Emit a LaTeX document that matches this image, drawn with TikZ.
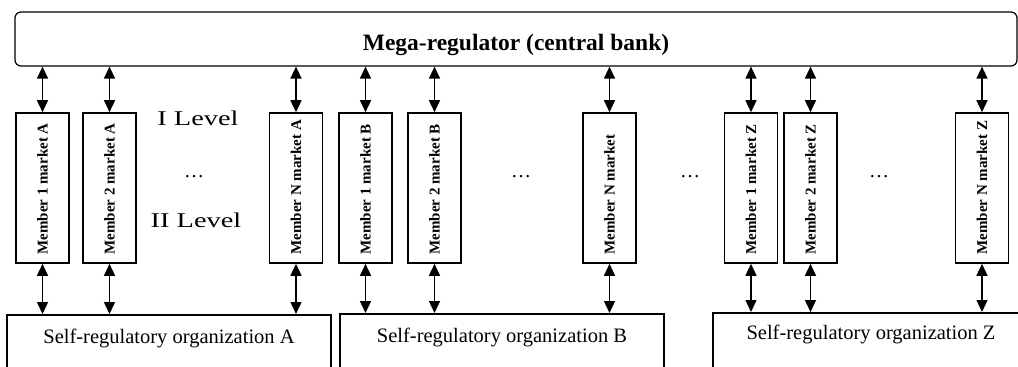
\documentclass[tikz,border=0pt]{standalone}
\usepackage{fontspec}
\setmainfont{Liberation Serif}
\newfontfamily\levelfont[FakeStretch=1.35]{Liberation Serif}
\usepackage{graphicx}
\usetikzlibrary{arrows.meta}
\tikzset{
  member/.style={draw, line width=1.6pt, minimum width=53pt, minimum height=150pt, inner sep=0pt,
    font=\fontsize{15}{17}\selectfont\bfseries},
  sro/.style={draw, line width=1.6pt, anchor=north, inner sep=0pt, text height=29pt, text depth=40pt,
    font=\fontsize{20.5}{24}\selectfont},
  lvl/.style={anchor=base, font=\levelfont\fontsize{21}{24}\selectfont},
  gap/.style={anchor=base, font=\fontsize{20}{24}\selectfont},
  link/.style={<->, line width=1.4pt},
}
\newcommand{\mem}[1]{\rotatebox{90}{\makebox[133pt][l]{#1}}}
\begin{document}
\begin{tikzpicture}[x=1pt, y=-1pt, >={Triangle[width=11pt,length=12pt]}]
		\useasboundingbox (0,0) rectangle (1018,367);
		\def\ym{188} % middle of the member boxes
		\node[draw, rounded corners=6pt, line width=1.2pt, minimum width=1002pt, minimum height=54pt, inner sep=0pt,
			text height=22pt, text depth=0pt, font=\fontsize{23.5}{26}\selectfont\bfseries] (mega) at (516,39) {Mega-regulator (central bank)};
		\node[member] (mA1) at (42.5,\ym) {\mem{Member 1 market A}};
		\node[member] (mA2) at (109.5,\ym) {\mem{Member 2 market A}};
		\node[member] (mAN) at (296,\ym) {\mem{Member N market A}};
		\node[member] (mB1) at (365.5,\ym) {\mem{Member 1 market B}};
		\node[member] (mB2) at (434.5,\ym) {\mem{Member 2 market B}};
		\node[member] (mBN) at (609.5,\ym) {\mem{Member N market}};
		\node[member] (mZ1) at (751,\ym) {\mem{Member 1 market Z}};
		\node[member] (mZ2) at (810.5,\ym) {\mem{Member 2 market Z}};
		\node[member] (mZN) at (982,\ym) {\mem{Member N market Z}};
		\node[sro, minimum width=324pt] (sroA) at (169,314) {Self-regulatory organization A};
		\node[sro, minimum width=324pt] (sroB) at (502,313) {Self-regulatory organization B};
		\node[sro, minimum width=316pt, text height=27pt] (sroZ) at (871,312) {Self-regulatory organization Z};
		\node[lvl] (lvI) at (198,125) {I Level};
		\node[lvl] (lvII) at (196,227) {II Level};
		\node[gap] (dA) at (194,177) {\dots};
		\node[gap] (dB) at (521,177) {\dots};
		\node[gap] (dBZ) at (690,177) {\dots};
		\node[gap] (dZ) at (879,177) {\dots};
		\foreach \m in {mA1,mA2,mAN,mB1,mB2,mBN,mZ1,mZ2,mZN}
			\draw[link] (mega.south -| \m.north) -- (\m.north);
		\foreach \m/\s in {mA1/sroA,mA2/sroA,mAN/sroA,mB1/sroB,mB2/sroB,mBN/sroB,mZ1/sroZ,mZ2/sroZ,mZN/sroZ}
			\draw[link] (\m.south) -- (\m.south |- \s.north);
\end{tikzpicture}
\end{document}
